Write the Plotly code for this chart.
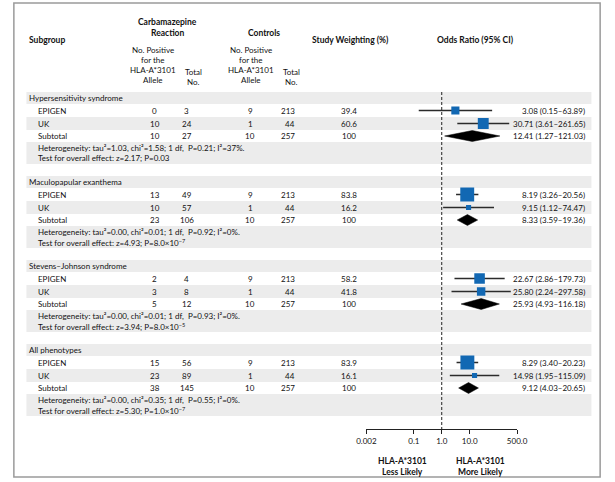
import plotly.graph_objects as go
import math

# ---------------- data ----------------
groups = ["Hypersensitivity syndrome", "Maculopapular exanthema",
          "Stevens\u2013Johnson syndrome", "All phenotypes"]
studies = ["EPIGEN", "UK", "Subtotal"]
case_pos = [[0, 10, 10], [13, 10, 23], [2, 3, 5], [15, 23, 38]]
case_total = [[3, 24, 27], [49, 57, 106], [4, 8, 12], [56, 89, 145]]
ctrl_pos = [[9, 1, 10], [9, 1, 10], [9, 1, 10], [9, 1, 10]]
ctrl_total = [[213, 44, 257], [213, 44, 257], [213, 44, 257], [213, 44, 257]]
weights = [[39.4, 60.6, 100], [83.8, 16.2, 100], [58.2, 41.8, 100], [83.9, 16.1, 100]]
or_est = [[3.08, 30.71, 12.41], [8.19, 9.15, 8.33], [22.67, 25.80, 25.93], [8.29, 14.98, 9.12]]
ci_low = [[0.15, 3.61, 1.27], [3.26, 1.12, 3.59], [2.86, 2.24, 4.93], [3.40, 1.95, 4.03]]
ci_high = [[63.89, 261.65, 121.03], [20.56, 74.47, 19.36], [179.73, 297.58, 116.18],
           [20.23, 115.09, 20.65]]
het_tau2 = ["1.03", "0.00", "0.00", "0.00"]
het_chi2 = ["1.58", "0.01", "0.01", "0.35"]
het_p = ["0.21", "0.92", "0.93", "0.55"]
het_i2 = ["37", "0", "0", "0"]
overall_z = ["2.17", "4.93", "3.94", "5.30"]
overall_p = ["0.03", "8.0\u00d710<sup>\u22127</sup>", "8.0\u00d710<sup>\u22125</sup>",
             "1.0\u00d710<sup>\u22127</sup>"]
tick_vals = [0.002, 0.1, 1, 10, 500]
tick_text = ["0.002", "0.1", "1.0", "10.0", "500.0"]

# ---------------- layout helpers ----------------
W, H = 615, 482
FONT = "Lato"
BLUE = "#1268b3"
BAND = "#ececec"


def px(x):
    return x / W


fig = go.Figure()
shapes = []
ann = []


def txt(x, y, s, anchor="left", size=8, bold=False, yanchor="middle"):
    if bold:
        s = "<b>" + s + "</b>"
    ann.append(dict(x=px(x), y=y, xref="paper", yref="y", text=s, showarrow=False,
                    xanchor=anchor, yanchor=yanchor,
                    font=dict(family=FONT, size=size, color="#111")))


# headers
txt(18, 40, "Subgroup", bold=True, size=8.5)
txt(163, 22, "Carbamazepine", anchor="center", bold=True, size=8.5)
txt(163, 33, "Reaction", anchor="center", bold=True, size=8.5)
txt(263, 33, "Controls", anchor="center", bold=True, size=8.5)
txt(311, 40, "Study Weighting (%)", bold=True, size=8.5)
txt(440, 40, "Odds Ratio (95% CI)", bold=True, size=8.5)
for cx in (148, 250):
    for i, line in enumerate(["No. Positive", "for the", "HLA-A*3101", "Allele"]):
        txt(cx, 50 + 10 * i, line, anchor="center")
for cx in (190, 291):
    txt(cx, 72, "Total", anchor="center")
    txt(cx, 82, "No.", anchor="center")

BLOCK = 84
for g, name in enumerate(groups):
    y0 = 98 + BLOCK * g
    # bands
    for a, b in [(y0 - 6, y0 + 6), (y0 + 19, y0 + 32), (y0 + 44, y0 + 66)]:
        shapes.append(dict(type="rect", xref="paper", yref="y", x0=px(17), x1=px(602),
                           y0=a, y1=b, fillcolor=BAND, line=dict(width=0), layer="below"))
    txt(18, y0, name)
    rows_y = [y0 + 12.5, y0 + 25.5, y0 + 38]
    for s, st in enumerate(studies):
        yy = rows_y[s]
        txt(27, yy, st)
        txt(150, yy, str(case_pos[g][s]), anchor="center")
        txt(183, yy, str(case_total[g][s]), anchor="center")
        txt(249, yy, str(ctrl_pos[g][s]), anchor="center")
        txt(297, yy, str(ctrl_total[g][s]), anchor="right")
        w = weights[g][s]
        txt(351, yy, ("%d" % w) if w == 100 else ("%.1f" % w), anchor="center")
        txt(597, yy, "%.2f (%.2f\u2013%.2f)" % (or_est[g][s], ci_low[g][s], ci_high[g][s]),
            anchor="right")
        if st != "Subtotal":
            fig.add_trace(go.Scatter(x=[ci_low[g][s], ci_high[g][s]], y=[yy, yy], mode="lines",
                                     line=dict(color="#2b2b2b", width=1.3),
                                     hoverinfo="skip", showlegend=False))
            fig.add_trace(go.Scatter(x=[or_est[g][s]], y=[yy], mode="markers",
                                     marker=dict(symbol="square", color=BLUE,
                                                 size=3 + 0.13 * w, line=dict(width=0)),
                                     showlegend=False))
        else:
            h = 5.5
            fig.add_trace(go.Scatter(
                x=[ci_low[g][s], or_est[g][s], ci_high[g][s], or_est[g][s], ci_low[g][s]],
                y=[yy, yy - h, yy, yy + h, yy], mode="lines", fill="toself",
                fillcolor="black", line=dict(color="black", width=0.5),
                hoverinfo="skip", showlegend=False))
    txt(27, y0 + 50, "Heterogeneity: tau\u00b2=%s, chi\u00b2=%s; 1 df,  P=%s; I\u00b2=%s%%."
        % (het_tau2[g], het_chi2[g], het_p[g], het_i2[g]))
    txt(27, y0 + 60, "Test for overall effect: z=%s; P=%s" % (overall_z[g], overall_p[g]))

# reference line at OR = 1
fig.add_trace(go.Scatter(x=[1, 1], y=[92, 429], mode="lines",
                         line=dict(color="#222", width=1, dash="3px,2px"),
                         hoverinfo="skip", showlegend=False))

# bottom labels
txt(406, 461, "HLA-A*3101", anchor="center", bold=True, size=8.5)
txt(406, 472, "Less Likely", anchor="center", bold=True, size=8.5)
txt(487, 461, "HLA-A*3101", anchor="center", bold=True, size=8.5)
txt(487, 472, "More Likely", anchor="center", bold=True, size=8.5)

# frame
shapes.append(dict(type="rect", xref="paper", yref="paper", x0=px(4), x1=px(611),
                   y0=1 - 477 / H, y1=1 - 3 / H, line=dict(color="#9a9a9a", width=1.5),
                   fillcolor="rgba(0,0,0,0)"))

fig.update_layout(
    width=W, height=H, margin=dict(l=0, r=0, t=0, b=0), autosize=False,
    paper_bgcolor="white", plot_bgcolor="rgba(0,0,0,0)",
    shapes=shapes, annotations=ann, showlegend=False,
    xaxis=dict(type="log", range=[math.log10(0.002), math.log10(500)],
               domain=[px(369), px(525)], anchor="free", position=1 - 429 / H,
               tickvals=tick_vals, ticktext=tick_text, ticks="outside", ticklen=4,
               tickcolor="#222", showline=True, linecolor="#222", linewidth=1,
               showgrid=False, zeroline=False,
               tickfont=dict(family=FONT, size=8, color="#111")),
    yaxis=dict(range=[H, 0], domain=[0, 1], visible=False, showgrid=False,
               zeroline=False),
)

fig.write_html("out.html",
               config={"displayModeBar": False, "responsive": False},
               default_width="615px", default_height="482px",
               post_script="document.body.style.margin='0';"
                           "document.body.style.padding='0';"
                           "document.body.style.overflow='hidden';")
